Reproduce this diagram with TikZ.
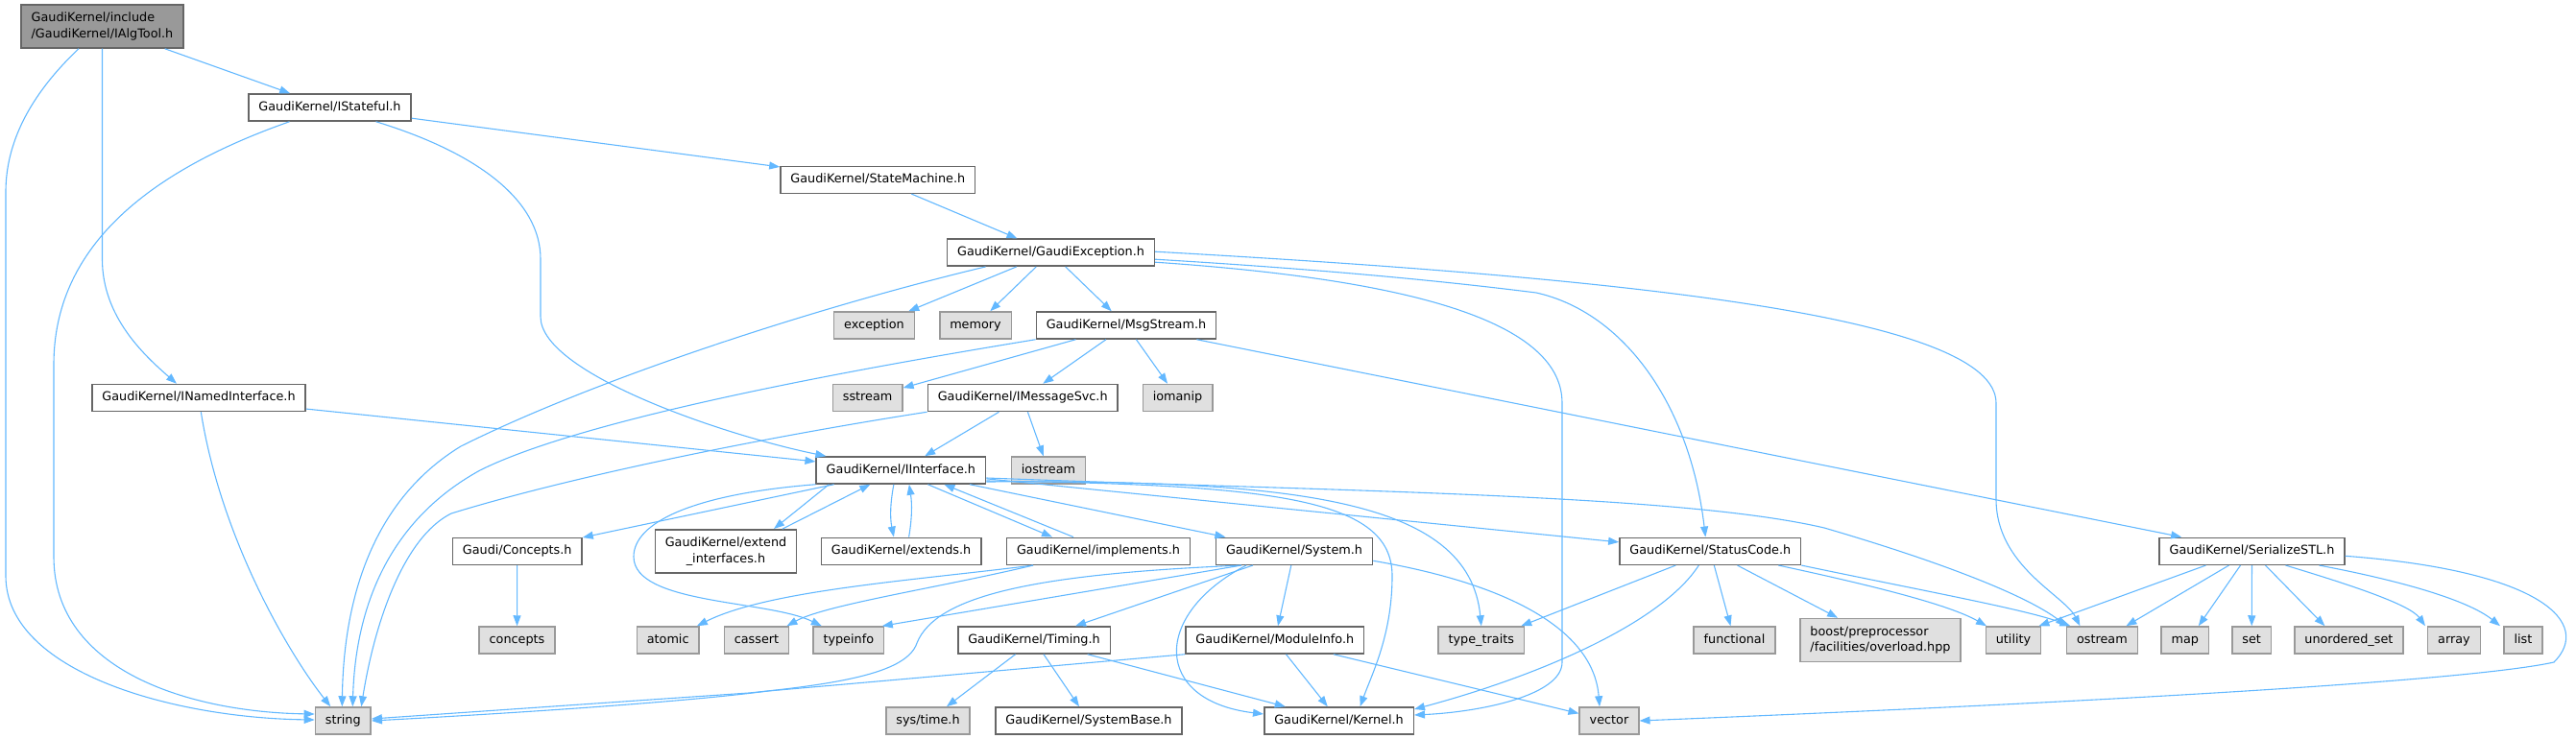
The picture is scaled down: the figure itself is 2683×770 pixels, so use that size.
\documentclass[tikz,border=0pt]{standalone}
\usepackage{fontspec}
\setmainfont{DejaVu Sans}
\usetikzlibrary{arrows.meta}
\definecolor{edgeblue}{HTML}{63B8FF}
\definecolor{boxline}{HTML}{666666}
\definecolor{extfill}{HTML}{E0E0E0}
\definecolor{extline}{HTML}{999999}

\begin{document}
\begin{tikzpicture}[x=1pt,y=-1pt,
  boxbase/.style={draw=boxline,fill=white,line width=1.5pt,inner xsep=10.5pt,
    font=\fontsize{12.8}{16.7}\selectfont},
  hnode/.style={boxbase,inner ysep=7.7pt,text height=9.6pt,text depth=3pt},
  hnodetwo/.style={boxbase,inner ysep=4pt,minimum height=45pt},
  snode/.style={hnode,draw=extline,fill=extfill},
  snodetwo/.style={hnodetwo,draw=extline,fill=extfill},
  rootnode/.style={hnodetwo,draw=boxline,fill=extline},
  dep/.style={draw=edgeblue,line width=1.1pt,-{Triangle[length=11pt,width=8pt]}}]
\useasboundingbox (0,0) rectangle (2683,770);

\node[rootnode,align=left] (ialgtool) at (106.5,27.5) {GaudiKernel/include\\/GaudiKernel/IAlgTool.h};
\node[hnode] (istateful) at (343.5,112) {GaudiKernel/IStateful.h};
\node[hnode] (statemachine) at (914.3,187.3) {GaudiKernel/StateMachine.h};
\node[hnode] (gaudiexception) at (1094.5,263.2) {GaudiKernel/GaudiException.h};
\node[snode] (exception) at (910.5,339) {exception};
\node[snode] (memory) at (1016,339) {memory};
\node[hnode] (msgstream) at (1173,339) {GaudiKernel/MsgStream.h};
\node[snode] (sstream) at (903.6,414.5) {sstream};
\node[hnode] (imessagesvc) at (1065.2,414.5) {GaudiKernel/IMessageSvc.h};
\node[snode] (iomanip) at (1226.5,414.5) {iomanip};
\node[hnode] (inamedinterface) at (207,414.5) {GaudiKernel/INamedInterface.h};
\node[hnode] (iinterface) at (938.4,490) {GaudiKernel/IInterface.h};
\node[snode] (iostream) at (1092,490) {iostream};
\node[hnode] (concepts) at (538.7,574.3) {Gaudi/Concepts.h};
\node[hnodetwo,align=center] (extendinterfaces) at (756,574.3) {GaudiKernel/extend\\\_interfaces.h};
\node[hnode] (extends) at (938.6,574.3) {GaudiKernel/extends.h};
\node[hnode] (implements) at (1144,574.3) {GaudiKernel/implements.h};
\node[hnode] (system) at (1348,574.3) {GaudiKernel/System.h};
\node[hnode] (statuscode) at (1781.3,574.3) {GaudiKernel/StatusCode.h};
\node[hnode] (serializestl) at (2345.5,574.3) {GaudiKernel/SerializeSTL.h};
\node[snode] (stdconcepts) at (538.5,667) {concepts};
\node[snode] (atomic) at (695.7,667) {atomic};
\node[snode] (cassert) at (788,667) {cassert};
\node[snode] (typeinfo) at (883.8,667) {typeinfo};
\node[hnode] (timing) at (1077,667) {GaudiKernel/Timing.h};
\node[hnode] (moduleinfo) at (1327.8,667) {GaudiKernel/ModuleInfo.h};
\node[snode] (typetraits) at (1542.8,667) {type\_traits};
\node[snode] (functional) at (1806.5,667) {functional};
\node[snodetwo,align=left] (overload) at (1958.5,667) {boost/preprocessor\\/facilities/overload.hpp};
\node[snode] (utility) at (2097,667) {utility};
\node[snode] (ostream) at (2189.4,667) {ostream};
\node[snode] (map) at (2275.8,667) {map};
\node[snode] (set) at (2345.2,667) {set};
\node[snode] (unorderedset) at (2446.4,667) {unordered\_set};
\node[snode] (array) at (2556,667) {array};
\node[snode] (list) at (2628,667) {list};
\node[snode] (string) at (357.3,751) {string};
\node[snode] (systime) at (966.5,751) {sys/time.h};
\node[hnode] (systembase) at (1134,751) {GaudiKernel/SystemBase.h};
\node[hnode] (kernel) at (1394.5,751) {GaudiKernel/Kernel.h};
\node[snode] (vector) at (1676,751) {vector};

% IAlgTool.h
\draw[dep] (ialgtool) -- (istateful);
\draw[dep] (ialgtool) -- (106.5,270) .. controls (106.5,330) and (150,370) .. ([xshift=-23pt]inamedinterface.north);
\draw[dep] (ialgtool) .. controls (30,100) and (6,150) .. (6,200) -- (6,600) .. controls (6,700) and (180,748) .. ([yshift=1pt]string.west);
% IStateful.h
\draw[dep] (istateful) -- (statemachine);
\draw[dep] (istateful) .. controls (150,180) and (56,260) .. (56,380) -- (56,580) .. controls (56,700) and (200,742) .. ([yshift=7pt]string.west);
\draw[dep] (istateful) .. controls (500,160) and (563,210) .. (563,270) -- (563,330) .. controls (563,390) and (760,455) .. ([xshift=-78pt]iinterface.north);
\draw[dep] (statemachine) -- (gaudiexception);
% GaudiException.h
\draw[dep] (gaudiexception) -- (exception);
\draw[dep] (gaudiexception) -- (memory);
\draw[dep] (gaudiexception) -- (msgstream);
\draw[dep] ([xshift=-68pt]gaudiexception.south) .. controls (850,320) and (620,395) .. (480,465) .. controls (390,520) and (358,620) .. ([xshift=-1pt]string.north);
\draw[dep] ([yshift=-7pt]gaudiexception.east) .. controls (1400,282) and (1520,295) .. (1600,305) .. controls (1690,325) and (1760,420) .. ([xshift=-5pt]statuscode.north);
\draw[dep] ([yshift=-10pt]gaudiexception.east) .. controls (1450,290) and (1627,330) .. (1627,420) -- (1627,690) .. controls (1627,725) and (1540,742) .. ([yshift=6pt]kernel.east);
\draw[dep] ([yshift=1pt]gaudiexception.east) .. controls (1700,290) and (2079,330) .. (2079,420) -- (2079,520) .. controls (2079,590) and (2150,620) .. ([xshift=-23pt]ostream.north);
% MsgStream.h
\draw[dep] (msgstream) -- (sstream);
\draw[dep] (msgstream) -- (imessagesvc);
\draw[dep] (msgstream) -- (iomanip);
\draw[dep] (msgstream) -- (serializestl);
\draw[dep] (msgstream.south west) .. controls (950,375) and (620,430) .. (500,490) .. controls (400,545) and (370,640) .. ([xshift=10pt]string.north);
% IMessageSvc.h
\draw[dep] (imessagesvc) -- (iinterface);
\draw[dep] (imessagesvc) -- (iostream);
\draw[dep] (imessagesvc.south west) .. controls (800,455) and (600,495) .. (470,535) .. controls (420,560) and (390,650) .. ([xshift=19pt]string.north);
% INamedInterface.h
\draw[dep] (inamedinterface) -- (iinterface);
\draw[dep] (inamedinterface) .. controls (230,560) and (300,680) .. ([xshift=-13pt]string.north);
% IInterface.h
\draw[dep] (iinterface) -- (concepts);
\draw[dep] ([xshift=-75pt]iinterface.south) -- ([xshift=50pt]extendinterfaces.north);
\draw[dep] ([xshift=59pt]extendinterfaces.north) -- ([xshift=-32pt]iinterface.south);
\draw[dep] ([xshift=-7.5pt]iinterface.south) .. controls (927,525) and (927,540) .. ([xshift=-7.7pt]extends.north);
\draw[dep] ([xshift=8pt]extends.north) .. controls (950,540) and (950,525) .. ([xshift=8.5pt]iinterface.south);
\draw[dep] ([xshift=28pt]iinterface.south) -- ([xshift=-48pt]implements.north);
\draw[dep] ([xshift=-26pt]implements.north) -- ([xshift=45pt]iinterface.south);
\draw[dep] (iinterface) -- (system);
\draw[dep] (iinterface) -- (statuscode);
\draw[dep] ([yshift=-11pt]iinterface.east) .. controls (1330,505) and (1450,520) .. (1450,600) .. controls (1450,660) and (1430,700) .. ([xshift=22pt]kernel.north);
\draw[dep] ([yshift=-12pt]iinterface.east) .. controls (1350,500) and (1530,520) .. (typetraits.north);
\draw[dep] ([yshift=-8pt]iinterface.east) .. controls (1400,512) and (1750,515) .. (1900,550) .. controls (2020,585) and (2110,620) .. ([xshift=-37pt]ostream.north);
\draw[dep] (iinterface.south west) .. controls (720,515) and (660,545) .. (660,580) .. controls (660,630) and (800,625) .. ([xshift=-28pt]typeinfo.north);
\draw[dep] (concepts) -- (stdconcepts);
% implements.h
\draw[dep] ([xshift=-68pt]implements.south) .. controls (950,605) and (800,615) .. ([xshift=-3pt]atomic.north east);
\draw[dep] ([xshift=-68pt]implements.south) .. controls (980,612) and (860,630) .. ([xshift=-3pt]cassert.north east);
% System.h
\draw[dep] ([xshift=-55pt]system.south) -- ([xshift=35pt]typeinfo.north);
\draw[dep] ([xshift=-55pt]system.south) .. controls (1080,598) and (975,620) .. (955,670) .. controls (945,700) and (880,712) .. (780,722) -- ([yshift=2pt]string.east);
\draw[dep] (system) -- (timing);
\draw[dep] (system) -- (moduleinfo);
\draw[dep] ([xshift=-50pt]system.south) .. controls (1200,640) and (1200,730) .. ([yshift=7pt]kernel.west);
\draw[dep] ([yshift=-10pt]system.east) .. controls (1580,610) and (1660,660) .. ([xshift=-10pt]vector.north);
% Timing.h, ModuleInfo.h
\draw[dep] (timing) -- (systime);
\draw[dep] (timing) -- (systembase);
\draw[dep] (timing) -- (kernel);
\draw[dep] (moduleinfo.south west) -- (800,720) .. controls (700,733) and (500,745) .. (string.east);
\draw[dep] (moduleinfo) -- (kernel);
\draw[dep] (moduleinfo) -- (vector);
% StatusCode.h
\draw[dep] ([xshift=-36pt]statuscode.south) -- ([xshift=-4pt]typetraits.north east);
\draw[dep] ([xshift=-12pt]statuscode.south) .. controls (1730,650) and (1600,705) .. ([yshift=12pt]kernel.east);
\draw[dep] (statuscode) -- (functional);
\draw[dep] (statuscode) -- (overload);
\draw[dep] ([xshift=71pt]statuscode.south) .. controls (1950,610) and (2030,630) .. ([xshift=-28pt]utility.north);
\draw[dep] ([xshift=95pt]statuscode.south) .. controls (2000,615) and (2110,635) .. ([xshift=-33pt]ostream.north);
% SerializeSTL.h
\draw[dep] ([xshift=-48pt]serializestl.south) -- ([xshift=-3pt]utility.north east);
\draw[dep] ([xshift=-24pt]serializestl.south) -- ([xshift=25pt]ostream.north);
\draw[dep] ([xshift=-12pt]serializestl.south) -- ([xshift=14pt]map.north);
\draw[dep] (serializestl) -- (set);
\draw[dep] ([xshift=14pt]serializestl.south) -- ([xshift=-25pt]unorderedset.north);
\draw[dep] ([xshift=35pt]serializestl.south) .. controls (2450,610) and (2510,630) .. ([xshift=-30pt]array.north);
\draw[dep] ([xshift=70pt]serializestl.south) .. controls (2500,605) and (2570,625) .. ([xshift=-24pt]list.north);
\draw[dep] ([yshift=-5pt]serializestl.east) .. controls (2650,595) and (2700,650) .. (2660,690) .. controls (2560,712) and (2100,735) .. (vector.east);
\end{tikzpicture}
\end{document}
